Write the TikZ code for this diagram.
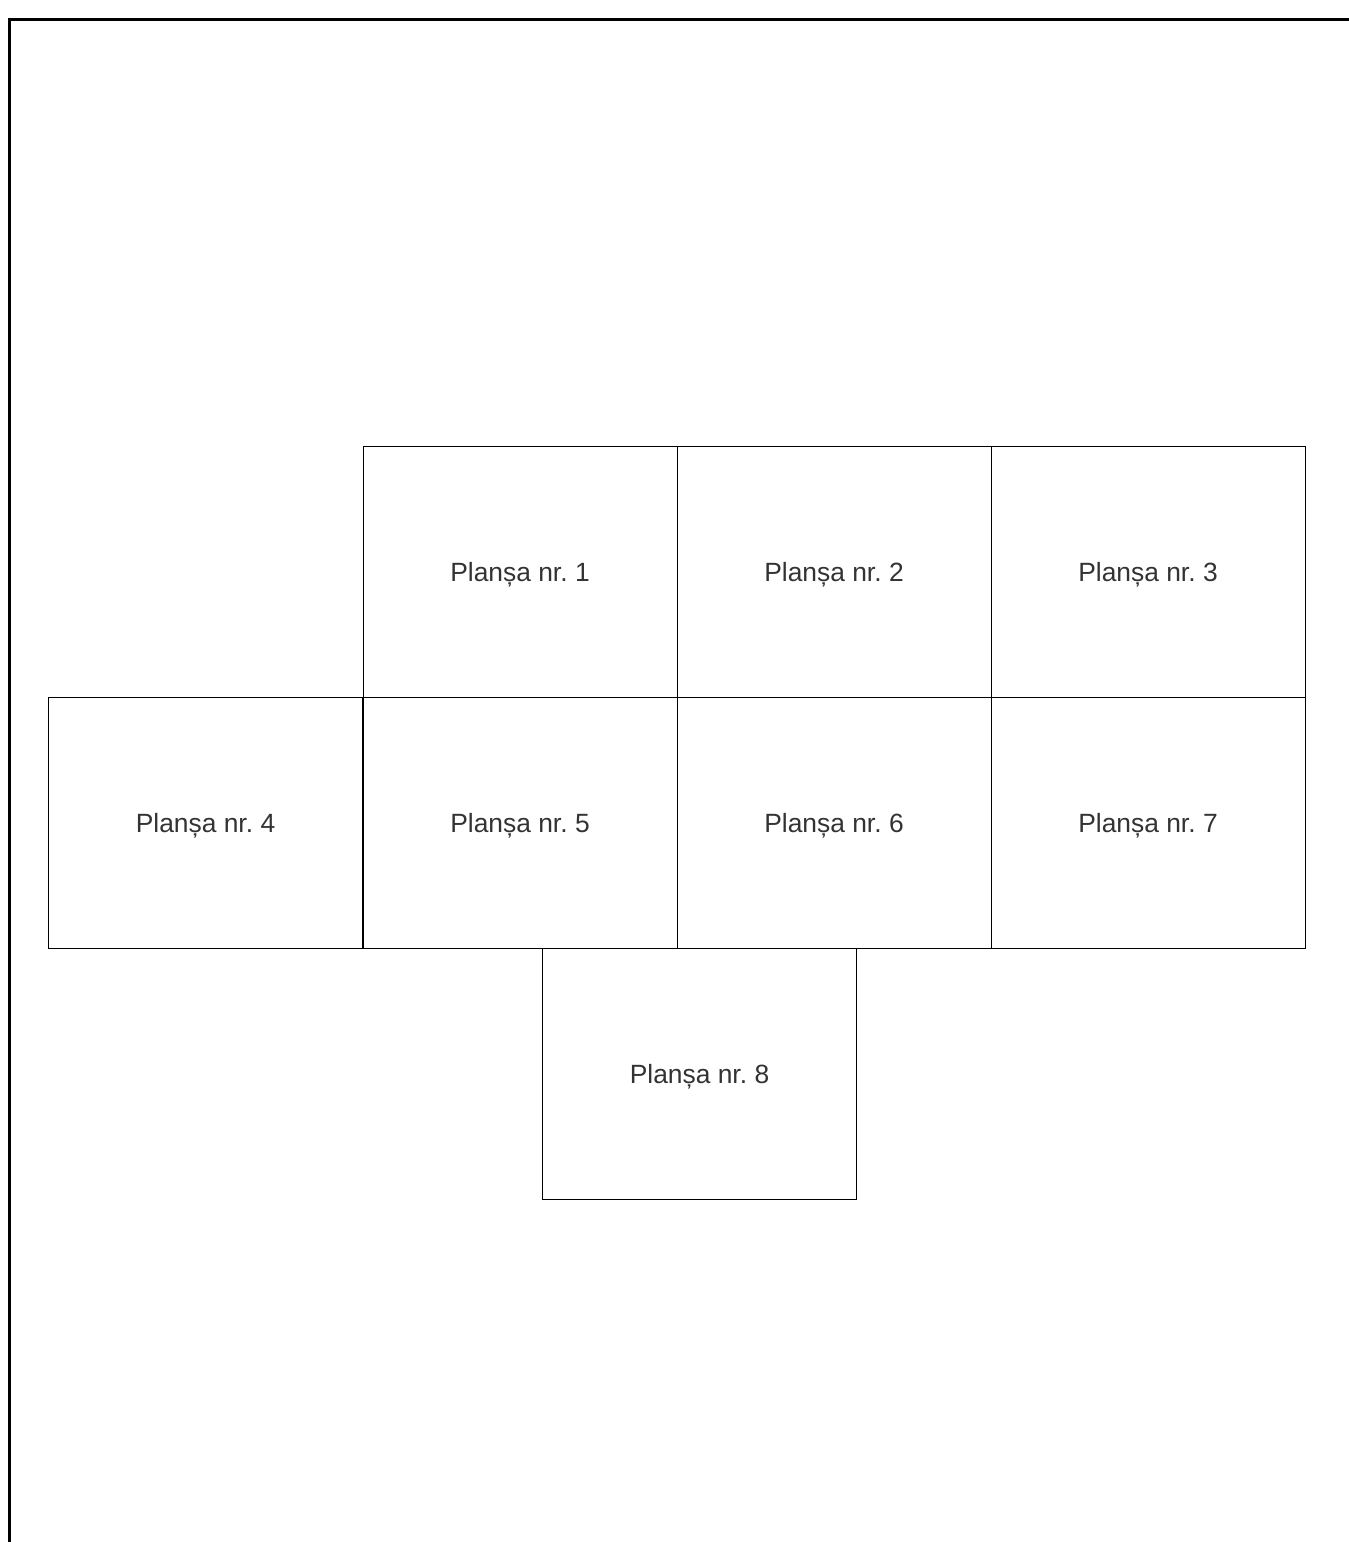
\documentclass[tikz,border=0pt]{standalone}
\usepackage{fontspec}
\setmainfont{Liberation Sans}
\usepackage{xcolor}
\usepackage{tikz}
\frenchspacing

\begin{document}
\begin{tikzpicture}[x=1pt, y=-1pt,
        plansa/.style={draw, line width=1pt, minimum width=314pt, minimum height=251pt,
              inner sep=0pt, text depth=0pt, font=\fontsize{26.4}{30}\selectfont, text=black!80},
    ]
        \useasboundingbox (0,0) rectangle (1349,1542);

        % Frame
        \draw[line width=3pt] (9,1542) -- (9,19) -- (1349,19);

        % Top row
        \node[plansa] (p1) at (520,571.5) {Planșa nr. 1};
        \node[plansa] (p2) at (834,571.5) {Planșa nr. 2};
        \node[plansa] (p3) at (1148,571.5) {Planșa nr. 3};

        % Middle row
        \node[plansa] (p4) at (205.5,822.5) {Planșa nr. 4};
        \node[plansa] (p5) at (520,822.5) {Planșa nr. 5};
        \node[plansa] (p6) at (834,822.5) {Planșa nr. 6};
        \node[plansa] (p7) at (1148,822.5) {Planșa nr. 7};

        % Bottom
        \node[plansa] (p8) at (699.5,1073.5) {Planșa nr. 8};
    \end{tikzpicture}
\end{document}
